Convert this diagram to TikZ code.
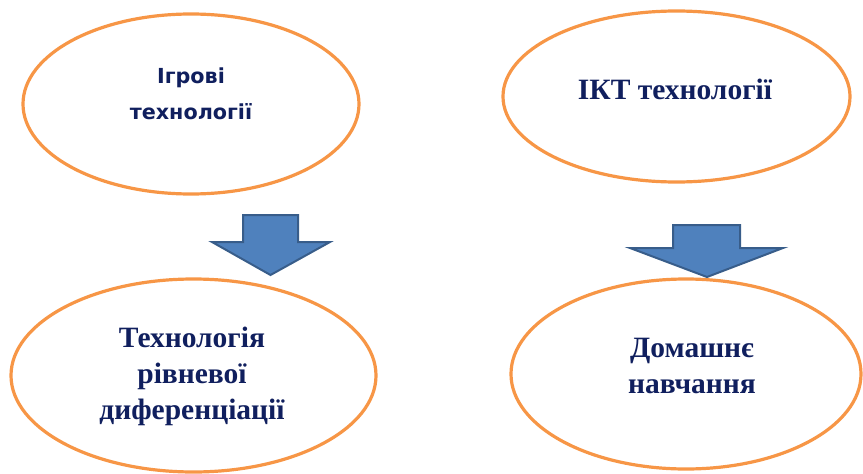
\documentclass[tikz,border=0pt]{standalone}
\usepackage{fontspec}
\setmainfont{Liberation Serif}
\newfontfamily\sansbold{DejaVu Sans}
\usetikzlibrary{shapes.geometric}
\definecolor{ringorange}{RGB}{247,150,70}
\definecolor{textnavy}{RGB}{16,31,94}
\definecolor{arrowfill}{RGB}{79,129,189}
\definecolor{arrowline}{RGB}{56,93,138}
\tikzset{
  ring/.style={ellipse, draw=ringorange, line width=3.2pt, fill=white, inner sep=0pt},
  serifname/.style={text=textnavy, align=center, inner sep=0pt, font=\fontsize{29.5}{36}\selectfont\bfseries},
  sansname/.style={text=textnavy, align=center, inner sep=0pt, font=\sansbold\fontsize{20.7}{36}\selectfont\bfseries},
  blockarrow/.style={fill=arrowfill, draw=arrowline, line width=2pt, line join=miter}
}
\begin{document}
\begin{tikzpicture}[x=1pt, y=-1pt]
\useasboundingbox (0,0) rectangle (863,474);
% ellipses
\node[ring, minimum width=336pt, minimum height=180pt] (game) at (191,104) {};
\node[ring, minimum width=347pt, minimum height=171pt] (ict) at (676.5,96.5) {};
\node[ring, minimum width=365pt, minimum height=193pt] (level) at (193.5,375.5) {};
\node[ring, minimum width=350pt, minimum height=190pt] (home) at (686,374) {};
% block arrows
\draw[blockarrow] (243,215) -- (298,215) -- (298,242) -- (330,242) -- (270.5,275) -- (212,242) -- (243,242) -- cycle;
\draw[blockarrow] (673,225) -- (740,225) -- (740,248) -- (783,248) -- (707,277) -- (630,248) -- (673,248) -- cycle;
% labels
\node[sansname] (gameText) at (191,94) {Ігрові\\технології};
\node[serifname] (ictText) at (675,89) {ІКТ технології};
\node[serifname] (levelText) at (192,376) {Технологія\\рівневої\\диференціації};
\node[serifname] (homeText) at (692,366) {Домашнє\\навчання};
\end{tikzpicture}
\end{document}
